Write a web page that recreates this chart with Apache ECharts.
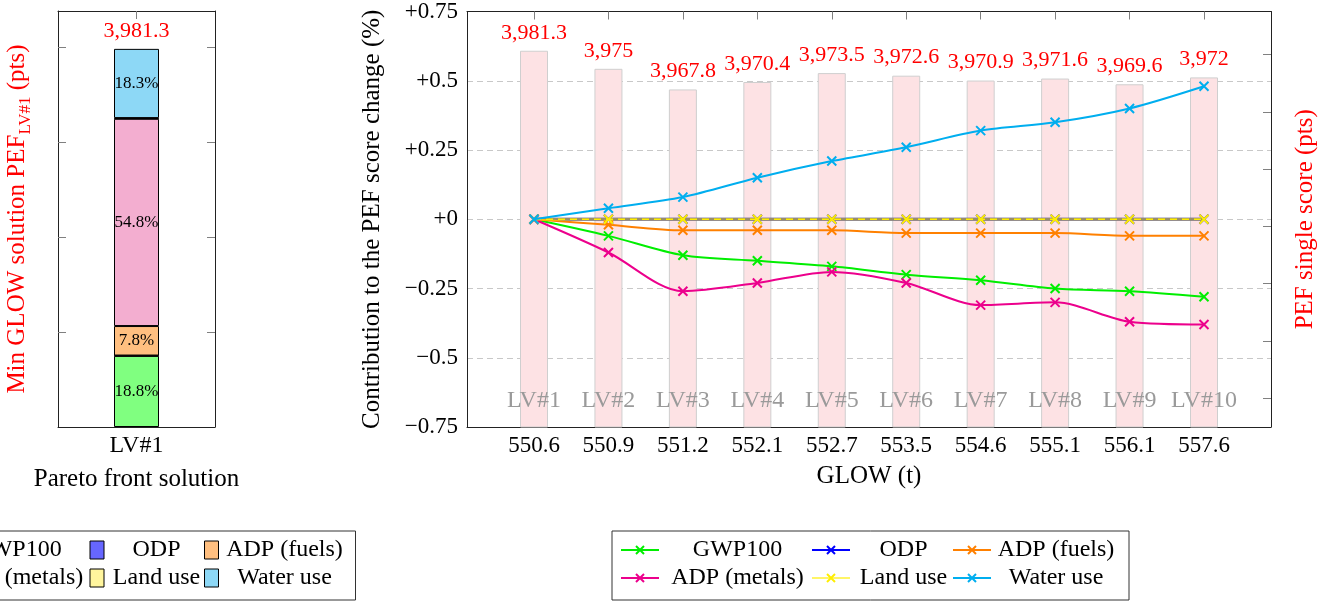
<!DOCTYPE html>
<html>
<head>
<meta charset="utf-8">
<script src="https://cdn.jsdelivr.net/npm/echarts@6/dist/echarts.min.js"></script>
<style>
html,body{margin:0;padding:0;background:#fff;}
#chart{width:1331px;height:601px;}
</style>
</head>
<body>
<div id="chart"></div>
<script>
// ---------- data ----------
const glowLabels = ['550.6','550.9','551.2','552.1','552.7','553.5','554.6','555.1','556.1','557.6'];
const lvNames = ['LV#1','LV#2','LV#3','LV#4','LV#5','LV#6','LV#7','LV#8','LV#9','LV#10'];
const pefScore = [3981.3, 3975, 3967.8, 3970.4, 3973.5, 3972.6, 3970.9, 3971.6, 3969.6, 3972];
const gwp100    = [0, -0.06, -0.13, -0.15, -0.17, -0.20, -0.22, -0.25, -0.26, -0.28];
const odp       = [0, 0, 0, 0, 0, 0, 0, 0, 0, 0];
const adpFuels  = [0, -0.02, -0.04, -0.04, -0.04, -0.05, -0.05, -0.05, -0.06, -0.06];
const adpMetals = [0, -0.12, -0.26, -0.23, -0.19, -0.23, -0.31, -0.30, -0.37, -0.38];
const landUse   = [0, 0, 0, 0, 0, 0, 0, 0, 0, 0];
const waterUse  = [0, 0.04, 0.08, 0.15, 0.21, 0.26, 0.32, 0.35, 0.40, 0.48];
const pefTicks = [3860, 3880, 3900, 3920, 3940, 3960, 3980];

const impactNames = ['GWP100', 'ODP', 'ADP (fuels)', 'ADP (metals)', 'Land use', 'Water use'];
const lv1Category = ['LV#1'];
const lv1Total = 3981.3;
const lv1Share = [18.8, 0.1, 7.8, 54.8, 0.2, 18.3];   // % of LV#1 PEF score, same order as impactNames
const lv1Ticks = [1000, 2000, 3000, 4000];

// ---------- styles ----------
const FONT = 'Liberation Serif';
const TITLE = 25, NUM = 23, LEG = 24;
const lineColors = ['#00ee00', '#0000ff', '#ff8000', '#ec008c', '#ffee00', '#00aeef'];
const barColors  = ['#80ff80', '#6666ff', '#ffbf80', '#f3aed0', '#fff59d', '#8dd8f6'];
const lineSeriesData = [gwp100, odp, adpFuels, adpMetals, landUse, waterUse];
const XMARK = 'path://M0,0L10,10M10,0L0,10';

const chart = echarts.init(document.getElementById('chart'));

const series = [];
// right chart: lines (listed first so the line legend uses them)
impactNames.forEach((name, k) => {
  const c = lineColors[k];
  const s = {
    type: 'line', name: name, xAxisIndex: 2, yAxisIndex: 2, z: 3 + k,
    data: lineSeriesData[k].map((v, i) => [i, v]),
    smooth: 0.3,
    symbol: XMARK, symbolSize: 9, showAllSymbol: true,
    lineStyle: { color: c, width: 2 },
    itemStyle: { color: c, borderColor: c, borderWidth: 2 }
  };
  if (name === 'ODP') s.lineStyle.width = 3;
  if (name === 'Land use') { s.lineStyle = { color: c, width: 3, opacity: 0.6 }; }
  series.push(s);
  if (name === 'Land use') {
    series.push({
      type: 'line', name: 'Land use (overlay)', xAxisIndex: 2, yAxisIndex: 2, z: 3 + k,
      data: lineSeriesData[k].map((v, i) => [i, v]),
      showSymbol: false, silent: true,
      lineStyle: { color: c, width: 1.5, type: [7, 5] }
    });
  }
});
// right chart: PEF single score bars (behind)
series.push({
  type: 'bar', name: 'PEF single score', xAxisIndex: 2, yAxisIndex: 3, z: 1,
  barWidth: 28, barGap: '-100%',
  data: pefScore.map((v, i) => [i, v]),
  itemStyle: { color: '#fde2e4', borderColor: '#cfcfcf', borderWidth: 1 },
  label: { show: true, position: 'top', distance: 7, color: '#ff0000', fontFamily: FONT, fontSize: 22,
    formatter: p => pefScore[p.dataIndex].toLocaleString('en-US') }
});
series.push({
  type: 'bar', name: 'LV labels', xAxisIndex: 2, yAxisIndex: 3, z: 1,
  barWidth: 28, barGap: '-100%', silent: true,
  data: pefScore.map((v, i) => [i, v]),
  itemStyle: { color: 'rgba(0,0,0,0)' },
  label: { show: true, position: 'insideBottom', distance: 14, color: '#9a9a9a', fontFamily: FONT, fontSize: 24,
    formatter: p => lvNames[p.dataIndex] }
});
// left chart: stacked bar
impactNames.forEach((name, k) => {
  series.push({
    type: 'bar', name: name, xAxisIndex: 0, yAxisIndex: 0, stack: 'lv1', barWidth: 45,
    data: [lv1Share[k] * lv1Total / 100],
    itemStyle: { color: barColors[k], borderColor: '#000', borderWidth: 1 },
    label: { show: lv1Share[k] > 5, position: 'inside', color: '#000', fontFamily: FONT, fontSize: 17,
      formatter: () => lv1Share[k].toFixed(1) + '%' }
  });
});
series.push({
  type: 'bar', name: 'LV#1 total', xAxisIndex: 0, yAxisIndex: 0, stack: 'lv1', barWidth: 45,
  data: [0], itemStyle: { color: 'rgba(0,0,0,0)', borderWidth: 0 },
  label: { show: true, position: 'top', distance: 7, color: '#ff0000', fontFamily: FONT, fontSize: 22,
    formatter: () => lv1Total.toLocaleString('en-US') }
});

const frame = { show: true, onZero: false, lineStyle: { color: '#222', width: 1 } };
const tickIn = { show: true, inside: true, length: 8, lineStyle: { color: '#808080', width: 1 } };
const colIdx = {}; impactNames.forEach((n, i) => colIdx[n] = i % 3);

function fmtPct(v) {
  if (Math.abs(v) < 1e-9) return '+0';
  return v > 0 ? '+' + v : '\u2212' + Math.abs(v);
}
function richCols(widths) {
  const r = {};
  widths.forEach((w, i) => {
    r['c' + i] = { width: w, height: 28, lineHeight: 28, align: 'center', fontSize: LEG, fontFamily: FONT, color: '#000' };
  });
  return r;
}

const option = {
  animation: false,
  backgroundColor: '#fff',
  textStyle: { fontFamily: FONT },
  grid: [
    { left: 58, top: 11, width: 157, height: 416 },
    { left: 467, top: 11, width: 804, height: 416 }
  ],
  xAxis: [
    { type: 'category', gridIndex: 0, position: 'bottom', data: lv1Category,
      axisLine: frame, axisTick: Object.assign({ alignWithLabel: true }, tickIn),
      axisLabel: { color: '#000', fontFamily: FONT, fontSize: 24, margin: 7 },
      name: 'Pareto front solution', nameLocation: 'middle', nameGap: 40,
      nameTextStyle: { color: '#000', fontFamily: FONT, fontSize: TITLE } },
    { type: 'category', gridIndex: 0, position: 'top', data: lv1Category,
      axisLine: frame, axisTick: Object.assign({ alignWithLabel: true }, tickIn), axisLabel: { show: false } },
    { type: 'value', gridIndex: 1, position: 'bottom', min: -0.9, max: 9.9,
      axisLine: frame, splitLine: { show: false },
      axisTick: Object.assign({ customValues: glowLabels.map((g, i) => i) }, tickIn),
      axisLabel: { customValues: glowLabels.map((g, i) => i), formatter: v => glowLabels[Math.round(v)],
        color: '#000', fontFamily: FONT, fontSize: NUM, margin: 7 },
      name: 'GLOW (t)', nameLocation: 'middle', nameGap: 37,
      nameTextStyle: { color: '#000', fontFamily: FONT, fontSize: TITLE } },
    { type: 'value', gridIndex: 1, position: 'top', min: -0.9, max: 9.9,
      axisLine: frame, splitLine: { show: false },
      axisTick: Object.assign({ customValues: glowLabels.map((g, i) => i) }, tickIn),
      axisLabel: { show: false } }
  ],
  yAxis: [
    { type: 'value', gridIndex: 0, position: 'left', min: 0, max: 4380,
      axisLine: frame, splitLine: { show: false },
      axisTick: Object.assign({ customValues: lv1Ticks }, tickIn), axisLabel: { show: false },
      name: '{m|Min GLOW solution PEF}{s|LV#1}{m| (pts)}', nameLocation: 'middle', nameGap: 24, nameRotate: 90,
      nameTextStyle: { color: '#ff0000', fontFamily: FONT, fontSize: TITLE,
        rich: { m: { color: '#ff0000', fontFamily: FONT, fontSize: TITLE, lineHeight: 29, verticalAlign: 'top' },
                s: { color: '#ff0000', fontFamily: FONT, fontSize: 17, lineHeight: 17, verticalAlign: 'bottom' } } } },
    { type: 'value', gridIndex: 0, position: 'right', min: 0, max: 4380,
      axisLine: frame, splitLine: { show: false },
      axisTick: Object.assign({ customValues: lv1Ticks }, tickIn), axisLabel: { show: false } },
    { type: 'value', gridIndex: 1, position: 'left', min: -0.75, max: 0.75, interval: 0.25,
      axisLine: frame, axisTick: { show: false },
      splitLine: { show: true, lineStyle: { color: '#c8c8c8', width: 1, type: [6, 4] } },
      axisLabel: { color: '#000', fontFamily: FONT, fontSize: NUM, margin: 9, formatter: fmtPct },
      name: 'Contribution to the PEF score change (%)', nameLocation: 'middle', nameGap: 82, nameRotate: 90,
      nameTextStyle: { color: '#000', fontFamily: FONT, fontSize: TITLE } },
    { type: 'value', gridIndex: 1, position: 'right', min: 3850, max: 3995,
      axisLine: frame, splitLine: { show: false },
      axisTick: Object.assign({ customValues: pefTicks }, tickIn), axisLabel: { show: false },
      name: 'PEF single score (pts)', nameLocation: 'middle', nameGap: 22, nameRotate: 90,
      nameTextStyle: { color: '#ff0000', fontFamily: FONT, fontSize: TITLE } }
  ],
  legend: [
    { // right chart legend (lines)
      left: 612, top: 531, width: 500, orient: 'horizontal',
      padding: [5, 13, 8, 8], itemGap: 0, itemWidth: 38, itemHeight: 10,
      borderColor: '#333', borderWidth: 1, backgroundColor: '#fff',
      data: impactNames,
      formatter: n => '{c' + colIdx[n] + '|' + n + '}',
      textStyle: { color: '#000', fontFamily: FONT, fontSize: LEG, lineHeight: 28, rich: richCols([147, 97, 120]) }
    },
    { // left chart legend (bars)
      left: -83, top: 531, width: 425, orient: 'horizontal',
      padding: [5, 10, 8, 8], itemGap: 0, itemWidth: 14, itemHeight: 18,
      borderColor: '#333', borderWidth: 1, backgroundColor: '#fff',
      data: impactNames.map((n, k) => ({ name: n, icon: 'rect',
        itemStyle: { color: barColors[k], borderColor: '#000', borderWidth: 1 } })),
      formatter: n => '{c' + colIdx[n] + '|' + n + '}',
      textStyle: { color: '#000', fontFamily: FONT, fontSize: LEG, lineHeight: 28, rich: richCols([145, 95, 122]) }
    }
  ],
  series: series
};
chart.setOption(option);
</script>
</body>
</html>
